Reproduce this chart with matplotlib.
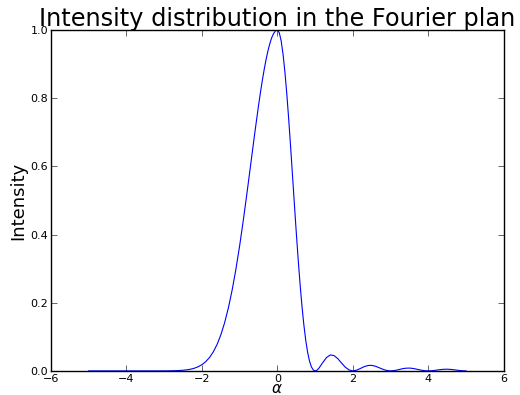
import numpy as np
import matplotlib
matplotlib.use('Agg')
import matplotlib.pyplot as plt

# alpha samples and measured intensity
alpha = [-5.0, -4.9, -4.8, -4.7, -4.6, -4.5, -4.4, -4.3, -4.2, -4.1,
         -4.0, -3.9, -3.8, -3.7, -3.6, -3.5, -3.4, -3.3, -3.2, -3.1,
         -3.0, -2.9, -2.8, -2.7, -2.6, -2.5, -2.4, -2.3, -2.2, -2.1,
         -2.0, -1.9, -1.8, -1.7, -1.6, -1.5, -1.4, -1.3, -1.2, -1.1,
         -1.0, -0.9, -0.8, -0.7, -0.6,
         -0.5, -0.45, -0.4, -0.35, -0.3, -0.25, -0.2, -0.15, -0.1, -0.05,
         0.0, 0.05, 0.1, 0.15, 0.2, 0.25, 0.3, 0.35, 0.4, 0.45,
         0.5, 0.55, 0.6, 0.65, 0.7, 0.75, 0.8, 0.85, 0.9, 0.95,
         1.0, 1.05, 1.1, 1.2, 1.3, 1.4, 1.5, 1.6, 1.7, 1.8, 1.9,
         2.0, 2.1, 2.2, 2.3, 2.4, 2.5, 2.6, 2.7, 2.8, 2.9,
         3.0, 3.1, 3.2, 3.3, 3.4, 3.5, 3.6, 3.7, 3.8, 3.9,
         4.0, 4.1, 4.2, 4.3, 4.4, 4.5, 4.6, 4.7, 4.8, 4.9, 5.0]
intensity = [0.0, 0.0, 0.0, 0.0, 0.0, 0.0, 0.0, 0.0, 0.0, 0.0,
             0.0, 0.0, 0.0, 0.0, 0.0, 0.0, 0.0, 0.0, 0.0, 0.0001,
             0.0001, 0.0002, 0.0004, 0.0007, 0.0012, 0.0019, 0.0032, 0.0050, 0.0079, 0.0122,
             0.0183, 0.0271, 0.0392, 0.0556, 0.0773, 0.1054, 0.1409, 0.1845, 0.2369, 0.2982,
             0.3679, 0.4449, 0.5273, 0.6126, 0.6977,
             0.7788, 0.8167, 0.8521, 0.8847, 0.9139, 0.9394, 0.9608, 0.9778, 0.9900, 0.9975,
             1.0, 0.9918, 0.9675, 0.9281, 0.8751, 0.8106, 0.7368, 0.6566, 0.5728, 0.4881,
             0.4053, 0.3267, 0.2546, 0.1904, 0.1353, 0.0901, 0.0547, 0.0289, 0.0119, 0.0027,
             0.0, 0.0022, 0.0080, 0.0243, 0.0392, 0.0468, 0.0450, 0.0358, 0.0229, 0.0108, 0.0027,
             0.0, 0.0022, 0.0072, 0.0125, 0.0159, 0.0162, 0.0136, 0.0091, 0.0045, 0.0012,
             0.0, 0.0010, 0.0034, 0.0061, 0.0079, 0.0083, 0.0071, 0.0048, 0.0024, 0.0006,
             0.0, 0.0006, 0.0020, 0.0036, 0.0047, 0.0050, 0.0043, 0.0030, 0.0015, 0.0004, 0.0]

xticks = [-6, -4, -2, 0, 2, 4, 6]
yticks = [0.0, 0.2, 0.4, 0.6, 0.8, 1.0]

fig = plt.figure(figsize=(5.2, 3.95), dpi=100)
ax = fig.add_axes([0.098, 0.061, 0.871, 0.863])
ax.plot(alpha, intensity, color='b', lw=0.8)

ax.set_xlim(-6, 6)
ax.set_ylim(0, 1)
ax.set_xticks(xticks)
ax.set_yticks(yticks)
ax.set_yticklabels(['%.1f' % t for t in yticks])
ax.tick_params(direction='in', top=True, right=True, labelsize=8,
               length=4, width=0.6, color='0.3', pad=2)
for s in ax.spines.values():
    s.set_linewidth(1.0)

ax.set_title('Intensity distribution in the Fourier plan', fontsize=17.3, pad=3)
ax.set_xlabel(r'$\alpha$', fontsize=11)
ax.xaxis.set_label_coords(0.5, -0.031)
ax.set_ylabel('Intensity', fontsize=13)
ax.yaxis.set_label_coords(-0.053, 0.5)

fig.savefig('out.png', dpi=100)
